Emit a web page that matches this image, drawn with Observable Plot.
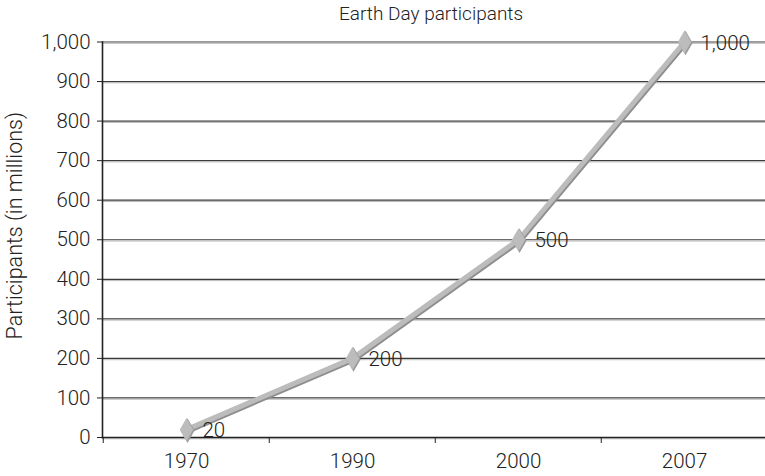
<!DOCTYPE html>
<html>
<head>
<meta charset="utf-8">
<script src="https://cdn.jsdelivr.net/npm/d3@7"></script>
<script src="https://cdn.jsdelivr.net/npm/@observablehq/plot@0.6"></script>
<style>
  body { margin: 0; background: #fff; }
  #wrap { position: relative; width: 765px; height: 476px; font-family: Roboto, "Open Sans", sans-serif; }
  #title { position: absolute; top: 0; left: 431px; transform: translateX(-50%); height: 28px; line-height: 28px; font-size: 19px; font-weight: 300; color: #222; white-space: nowrap; z-index: 2; }
  #chart { position: absolute; top: 24px; left: 0; }
  svg { font-family: Roboto, "Open Sans", sans-serif; font-weight: 300; }
</style>
</head>
<body>
<div id="wrap">
  <div id="title">Earth Day participants</div>
  <div id="chart"></div>
</div>
<script>
const years = ["1970", "1990", "2000", "2007"];
const participants = [20, 200, 500, 1000];
const yTicks = [0, 100, 200, 300, 400, 500, 600, 700, 800, 900, 1000];
const yLabel = "Participants (in millions)";

const data = years.map((y, i) => ({year: y, value: participants[i]}));
const fmt = d3.format(",");
const W = 765, H = 452, ML = 102, MR = -3;
const bw = (W - MR - ML) / years.length;

const chart = Plot.plot({
  width: W,
  height: H,
  marginLeft: ML,
  marginRight: MR,
  marginTop: 17.5,
  marginBottom: 39,
  style: {fontSize: "20px", color: "#222", background: "transparent", overflow: "visible"},
  x: {type: "band", domain: years, padding: 0},
  y: {domain: [0, 1000]},
  marks: [
    Plot.gridY(yTicks, {stroke: "#3a3a3a", strokeOpacity: 1, strokeWidth: 1.2}),
    Plot.gridY(yTicks, {stroke: "#bbb", strokeOpacity: 1, strokeWidth: 1, dy: 1.3}),
    Plot.axisY({ticks: yTicks, tickSize: 5, tickPadding: 7, tickFormat: fmt, label: null, stroke: "#222", fontSize: 20.5}),
    Plot.axisX({tickSize: 6, tickFormat: () => "", dx: -bw / 2, label: null, stroke: "#222"}),
    Plot.axisX({tickSize: 0, tickPadding: 16, label: null, fontSize: 20.5}),
    Plot.frame({anchor: "left", stroke: "#222", strokeWidth: 1.6}),
    Plot.frame({anchor: "bottom", stroke: "#222", strokeWidth: 1.6}),
    Plot.text([yLabel], {frameAnchor: "left", textAnchor: "middle", rotate: -90, dx: -87, dy: -14, fontSize: 21.5, fill: "#222"}),
    Plot.line(data, {x: "year", y: "value", stroke: "#8e8e8e", strokeWidth: 5.5, dx: 1, dy: 1.3}),
    Plot.line(data, {x: "year", y: "value", stroke: "#bcbcbc", strokeWidth: 5}),
    Plot.dot(data, {x: "year", y: "value", symbol: "diamond", r: 7.5, fill: "#9c9c9c", dx: 1, dy: 1}),
    Plot.dot(data, {x: "year", y: "value", symbol: "diamond", r: 7, fill: "#bcbcbc"}),
    Plot.text(data, {x: "year", y: "value", text: d => fmt(d.value), textAnchor: "start", dx: 16, dy: 1, fontSize: 20.5, fill: "#222"})
  ]
});
document.getElementById("chart").appendChild(chart);
</script>
</body>
</html>
